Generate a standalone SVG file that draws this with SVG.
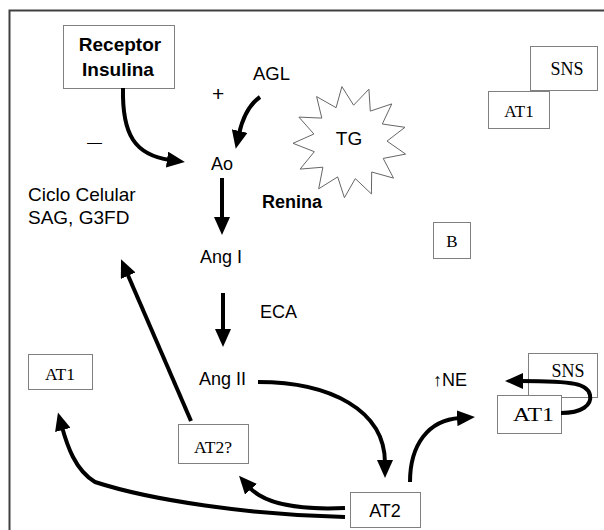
<svg xmlns="http://www.w3.org/2000/svg" width="604" height="530" viewBox="0 0 604 530">
<style>
.box{fill:#fff;stroke:#808080;stroke-width:1}
.sans{font-family:"Liberation Sans",Arial,sans-serif;font-size:18px;fill:#000}
.bold{font-weight:bold}
.serif{font-family:"Liberation Serif","Times New Roman",serif;font-size:18px;fill:#000}
.conn{fill:none;stroke:#000;stroke-width:4;marker-end:url(#ah)}
</style>
<defs>
<marker id="ah" viewBox="0 0 18 16" refX="3" refY="8" markerWidth="18" markerHeight="16" markerUnits="userSpaceOnUse" orient="auto">
<path d="M0,0 L18,8 L0,16 z" fill="#000"/>
</marker>
</defs>
<rect width="604" height="530" fill="#fff"/>
<path d="M9.5,540 L9.5,10.5 L610,10.5" fill="none" stroke="#404040" stroke-width="2"/>

<g id="receptor">
<rect class="box" x="63.5" y="25.5" width="111" height="63"/>
<text class="sans bold" x="120" y="51" text-anchor="middle" style="font-size:19px">Receptor</text>
<text class="sans bold" x="118" y="76" text-anchor="middle" style="font-size:19px">Insulina</text>
</g>
<g id="agl"><text class="sans" x="253" y="80" style="font-size:18.5px">AGL</text></g>
<g id="plus"><text class="sans" x="212" y="101" style="font-size:21px">+</text></g>
<g id="minus"><text class="sans" x="87" y="147" style="font-size:15px">—</text></g>
<g id="ao"><text class="sans" x="211" y="170">Ao</text></g>
<g id="tg">
<polygon fill="#fff" stroke="#666" stroke-width="1" points="368.9,89.2 370.3,111.1 391.8,103.9 382.3,124.0 405.0,127.3 387.0,141.1 405.6,154.1 383.2,158.4 393.5,178.1 371.7,172.0 371.4,193.9 355.3,178.6 344.4,197.7 337.7,176.9 318.7,188.8 322.9,167.2 300.1,169.1 314.3,151.7 293.0,143.3 313.9,134.0 298.9,117.1 321.8,118.1 316.6,96.6 336.1,107.7 341.9,86.6 353.6,105.2"/>
<text class="sans" x="349" y="145" text-anchor="middle" style="font-size:19px">TG</text>
</g>
<g id="sns-top">
<rect class="box" x="530.5" y="46.5" width="67" height="44"/>
<text class="serif" x="567" y="75" text-anchor="middle">SNS</text>
</g>
<g id="at1-top">
<rect class="box" x="488.5" y="91.5" width="61" height="37"/>
<text class="serif" x="519" y="117" text-anchor="middle" style="font-size:17px">AT1</text>
</g>
<g id="ciclo">
<text class="sans" x="28" y="201" style="font-size:19px">Ciclo Celular</text>
<text class="sans" x="28" y="224" style="font-size:19px">SAG, G3FD</text>
</g>
<g id="renina"><text class="sans bold" x="262" y="208">Renina</text></g>
<g id="angI"><text class="sans" x="200" y="263">Ang I</text></g>
<g id="eca"><text class="sans" x="260" y="318">ECA</text></g>
<g id="angII"><text class="sans" x="199" y="385">Ang II</text></g>
<g id="b">
<rect class="box" x="433.5" y="222.5" width="37" height="36"/>
<text class="serif" x="452" y="247" text-anchor="middle" style="font-size:17px">B</text>
</g>
<g id="at1-left">
<rect class="box" x="28.5" y="354.5" width="64" height="35"/>
<text class="serif" x="60" y="380" text-anchor="middle" style="font-size:17.5px">AT1</text>
</g>
<g id="at2q">
<rect class="box" x="178.5" y="424.5" width="70" height="39"/>
<text class="serif" x="213" y="453" text-anchor="middle" style="font-size:17.5px">AT2?</text>
</g>
<g id="ne"><text class="sans" x="433" y="386">↑NE</text></g>
<g id="sns-bottom">
<rect class="box" x="528.5" y="353.5" width="69" height="44"/>
<text class="serif" x="568" y="377" text-anchor="middle">SNS</text>
</g>
<g id="at1-right">
<rect class="box" x="497.5" y="395.5" width="64" height="38"/>
<text class="serif" x="513" y="421" textLength="41" lengthAdjust="spacingAndGlyphs">AT1</text>
</g>
<g id="at2">
<rect class="box" x="350.5" y="492.5" width="70" height="35"/>
<text class="sans" x="385" y="517" text-anchor="middle">AT2</text>
</g>

<g id="connectors">
<path class="conn" d="M123,88 C122,135 135,155 170,160"/>
<path class="conn" d="M260,97 C250,104 243,116 239,134"/>
<path class="conn" d="M222,178 L222,220"/>
<path class="conn" d="M223,293 L223,332"/>
<path class="conn" d="M258,382 C330,382 385,410 385,463"/>
<path class="conn" d="M410,482 C410,445 428,420 460,418"/>
<path class="conn" d="M561,413 C582,413 592,405 590,395 C588,384 575,381 520,381"/>
<path class="conn" d="M345,508 C300,510 265,505 249,487"/>
<path class="conn" d="M345,517 C250,515 150,500 95,482 C75,470 67,445 62,427"/>
<path class="conn" d="M191,421 L127,273"/>
</g>
</svg>
